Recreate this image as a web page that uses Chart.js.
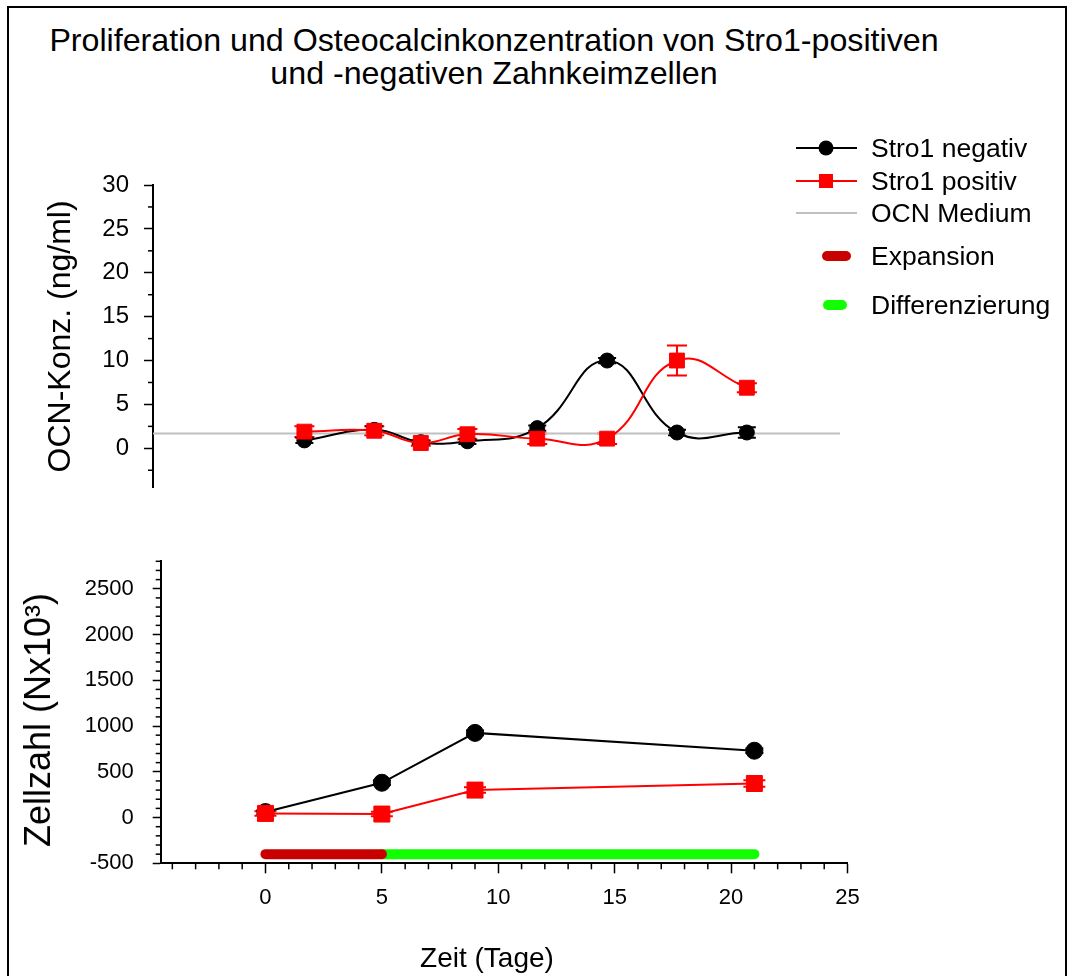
<!DOCTYPE html>
<html>
<head>
<meta charset="utf-8">
<script src="https://cdn.jsdelivr.net/npm/chart.js@4.4.1/dist/chart.umd.min.js"></script>
<style>
  html, body { margin: 0; padding: 0; background: #fff; }
  body { width: 1072px; height: 976px; position: relative; overflow: hidden;
         font-family: "Liberation Sans", Arial, sans-serif; color: #000; }
  #frame { position: absolute; left: 7px; top: 6px; width: 1060px; height: 1000px;
           box-sizing: border-box; border: 2px solid #000; }
  .title { position: absolute; left: 0; width: 988px; text-align: center;
           font-size: 32.2px; line-height: 32px; white-space: nowrap; }
  .chartBox { position: absolute; left: 0; width: 1072px; }
  #ocnBox { top: 150px; height: 370px; }
  #cellBox { top: 520px; height: 456px; }
  #xTitle { position: absolute; left: 0; width: 974px; top: 944px; text-align: center;
            font-size: 28px; line-height: 28px; white-space: nowrap; }
  #cellTitle { position: absolute; left: 38px; top: 720px; font-size: 36px; line-height: 36px;
               white-space: nowrap; transform: translate(-50%, -50%) rotate(-90deg); }
  .lg { position: absolute; left: 796px; height: 26px; }
  .lg svg { position: absolute; left: 0; top: 0; }
  .lg span { position: absolute; left: 75px; top: 0; font-size: 26.5px; line-height: 26px; white-space: nowrap; }
</style>
</head>
<body>
<div id="frame"></div>
<div class="title" style="top:24px">Proliferation und Osteocalcinkonzentration von Stro1-positiven</div>
<div class="title" style="top:57px">und -negativen Zahnkeimzellen</div>

<div class="chartBox" id="ocnBox"><canvas id="ocnChart" width="1072" height="370"></canvas></div>
<div class="chartBox" id="cellBox"><canvas id="cellChart" width="1072" height="456"></canvas></div>
<div id="cellTitle">Zellzahl (Nx10³)</div>
<div id="xTitle">Zeit (Tage)</div>

<!-- Legende -->
<div class="lg" style="top:135px">
  <svg width="64" height="26"><line x1="0" y1="13" x2="61" y2="13" stroke="#000" stroke-width="2"/><circle cx="30" cy="13" r="7.5" fill="#000"/></svg>
  <span>Stro1 negativ</span>
</div>
<div class="lg" style="top:168px">
  <svg width="64" height="26"><line x1="0" y1="13" x2="61" y2="13" stroke="#f00" stroke-width="2"/><rect x="23" y="6" width="14" height="14" fill="#f00"/></svg>
  <span>Stro1 positiv</span>
</div>
<div class="lg" style="top:200px">
  <svg width="64" height="26"><line x1="0" y1="13" x2="61" y2="13" stroke="#c0c0c0" stroke-width="2"/></svg>
  <span>OCN Medium</span>
</div>
<div class="lg" style="top:243px">
  <svg width="64" height="26"><line x1="31" y1="13" x2="50" y2="13" stroke="#c80000" stroke-width="10" stroke-linecap="round"/></svg>
  <span>Expansion</span>
</div>
<div class="lg" style="top:292px">
  <svg width="64" height="26"><line x1="32" y1="13" x2="46" y2="13" stroke="#11ff00" stroke-width="10" stroke-linecap="round"/></svg>
  <span>Differenzierung</span>
</div>

<script>
// Osteocalcin (ng/ml) ueber die Kulturdauer
const ocnDays = [2, 5, 7, 9, 12, 15, 18, 21];
const ocnNegativ = [0.9, 2.1, 0.7, 0.8, 2.3, 10.0, 1.8, 1.8];
const ocnNegativErr = [0.3, 0.4, 0.2, 0.3, 0.3, 0.3, 0.3, 0.6];
const ocnPositiv = [1.9, 2.0, 0.6, 1.6, 1.1, 1.1, 10.0, 6.9];
const ocnPositivErr = [0.6, 0.5, 0.3, 0.6, 0.6, 0.6, 1.7, 0.5];
const ocnMedium = 1.7;
const ocnTicks = [0, 5, 10, 15, 20, 25, 30];

// Zellzahl (N x 10^3)
const cellDays = [0, 5, 9, 21];
const cellNegativ = [60, 380, 925, 730];
const cellNegativErr = [20, 25, 25, 25];
const cellPositiv = [45, 38, 300, 372];
const cellPositivErr = [25, 25, 30, 35];
const cellTicks = [-500, 0, 500, 1000, 1500, 2000, 2500];
const dayTicks = [0, 5, 10, 15, 20, 25];

// Kulturphasen
const expansionDays = [0, 5];
const diffDays = [5, 21];
const phaseLevel = -400;

const FONT = '"Liberation Sans", Arial, sans-serif';
const dayMin = -4.5, dayMax = 25;

const pts = (xs, ys) => xs.map((x, i) => ({ x: x, y: ys[i] }));

// Fehlerbalken hinter den Symbolen
const errorBars = {
  id: 'errorBars',
  beforeDatasetsDraw(chart) {
    const ctx = chart.ctx;
    const yScale = chart.scales.y;
    chart.data.datasets.forEach((ds, i) => {
      if (!ds.errors) return;
      const meta = chart.getDatasetMeta(i);
      ctx.save();
      ctx.strokeStyle = ds.borderColor;
      ctx.lineWidth = 2;
      meta.data.forEach((pt, j) => {
        const v = ds.data[j].y, e = ds.errors[j];
        const top = yScale.getPixelForValue(v + e);
        const bot = yScale.getPixelForValue(v - e);
        const w = ds.capWidth / 2;
        ctx.beginPath();
        ctx.moveTo(pt.x, top); ctx.lineTo(pt.x, bot);
        ctx.moveTo(pt.x - w, top); ctx.lineTo(pt.x + w, top);
        ctx.moveTo(pt.x - w, bot); ctx.lineTo(pt.x + w, bot);
        ctx.stroke();
      });
      ctx.restore();
    });
  }
};

// Zwischenstriche an den Achsen
const minorTicks = {
  id: 'minorTicks',
  afterDraw(chart, args, opts) {
    const ctx = chart.ctx;
    ctx.save();
    ctx.strokeStyle = '#000';
    ctx.lineWidth = 1.5;
    (opts.list || []).forEach(m => {
      const s = chart.scales[m.axis];
      for (let v = m.from; v <= m.to + 1e-9; v += m.step) {
        if (Math.abs(v / m.skip - Math.round(v / m.skip)) < 1e-6) continue;
        const p = s.getPixelForValue(v);
        ctx.beginPath();
        if (m.axis === 'y') { ctx.moveTo(s.right - m.len, p); ctx.lineTo(s.right, p); }
        else { ctx.moveTo(p, s.top); ctx.lineTo(p, s.top + m.len); }
        ctx.stroke();
      }
    });
    ctx.restore();
  }
};

const tickFont = size => ({ family: FONT, size: size });
const fixTicks = list => scale => { scale.ticks = list.map(v => ({ value: v })); };

// Oberes Diagramm: OCN-Konzentration
new Chart(document.getElementById('ocnChart'), {
  type: 'line',
  data: {
    datasets: [{
      label: 'Stro1 positiv',
      data: pts(ocnDays, ocnPositiv),
      errors: ocnPositivErr, capWidth: 20,
      borderColor: '#ff0000', backgroundColor: '#ff0000',
      borderWidth: 2, tension: 0.45,
      pointStyle: 'rect', pointRadius: 10.5, pointBorderWidth: 1
    }, {
      label: 'Stro1 negativ',
      data: pts(ocnDays, ocnNegativ),
      errors: ocnNegativErr, capWidth: 18,
      borderColor: '#000000', backgroundColor: '#000000',
      borderWidth: 2, tension: 0.45,
      pointStyle: 'circle', pointRadius: 7.5, pointBorderWidth: 1
    }, {
      label: 'OCN Medium',
      data: [{ x: dayMin, y: ocnMedium }, { x: dayMax, y: ocnMedium }],
      borderColor: '#c0c0c0', borderWidth: 2, pointRadius: 0
    }]
  },
  options: {
    responsive: false, animation: false, events: [],
    layout: { padding: { left: 0, right: 232, top: 35, bottom: 32.2 } },
    plugins: {
      legend: { display: false }, tooltip: { enabled: false },
      minorTicks: { list: [{ axis: 'y', from: -2.5, to: 27.5, step: 2.5, skip: 5, len: 5 }] }
    },
    scales: {
      x: { type: 'linear', min: dayMin, max: dayMax, display: false },
      y: {
        min: -4.5, max: 30,
        afterBuildTicks: fixTicks(ocnTicks),
        afterFit: s => { s.width = 153; },
        border: { display: true, color: '#000', width: 2 },
        grid: { drawOnChartArea: false, drawTicks: true, tickLength: 9, tickColor: '#000', tickWidth: 1.5 },
        ticks: { color: '#000', font: tickFont(24), padding: 15, callback: v => String(v) },
        title: { display: true, text: 'OCN-Konz. (ng/ml)', color: '#000',
                 font: { family: FONT, size: 32, lineHeight: 1 }, padding: { top: 45, bottom: 0 } }
      }
    }
  },
  plugins: [errorBars, minorTicks]
});

// Unteres Diagramm: Zellzahl
new Chart(document.getElementById('cellChart'), {
  type: 'line',
  data: {
    datasets: [{
      label: 'Stro1 positiv',
      data: pts(cellDays, cellPositiv),
      errors: cellPositivErr, capWidth: 22,
      borderColor: '#ff0000', backgroundColor: '#ff0000',
      borderWidth: 2, tension: 0,
      pointStyle: 'rect', pointRadius: 11.3, pointBorderWidth: 1
    }, {
      label: 'Stro1 negativ',
      data: pts(cellDays, cellNegativ),
      errors: cellNegativErr, capWidth: 18,
      borderColor: '#000000', backgroundColor: '#000000',
      borderWidth: 2, tension: 0,
      pointStyle: 'circle', pointRadius: 8.5, pointBorderWidth: 1
    }, {
      label: 'Expansion',
      data: expansionDays.map(x => ({ x: x, y: phaseLevel })),
      borderColor: '#c80000', borderWidth: 10, borderCapStyle: 'round', pointRadius: 0
    }, {
      label: 'Differenzierung',
      data: diffDays.map(x => ({ x: x, y: phaseLevel })),
      borderColor: '#11ff00', borderWidth: 10, borderCapStyle: 'round', pointRadius: 0
    }]
  },
  options: {
    responsive: false, animation: false, events: [],
    layout: { padding: { left: 0, right: 224.5, top: 41.3, bottom: 4.5 } },
    plugins: {
      legend: { display: false }, tooltip: { enabled: false },
      minorTicks: { list: [
        { axis: 'y', from: -400, to: 2800, step: 100, skip: 500, len: 5 },
        { axis: 'x', from: -4, to: 24, step: 1, skip: 5, len: 6 }
      ] }
    },
    scales: {
      x: {
        type: 'linear', min: dayMin, max: dayMax,
        afterBuildTicks: fixTicks(dayTicks),
        afterFit: s => { s.height = 108.2; },
        border: { display: true, color: '#000', width: 2 },
        grid: { drawOnChartArea: false, drawTicks: true, tickLength: 10, tickColor: '#000', tickWidth: 1.5 },
        ticks: { color: '#000', font: tickFont(22), padding: 11, maxRotation: 0, callback: v => String(v) }
      },
      y: {
        min: -500, max: 2800,
        afterBuildTicks: fixTicks(cellTicks),
        afterFit: s => { s.width = 160.7; },
        border: { display: true, color: '#000', width: 2 },
        grid: { drawOnChartArea: false, drawTicks: true, tickLength: 8, tickColor: '#000', tickWidth: 1.5 },
        ticks: { color: '#000', font: tickFont(22), padding: 19, callback: v => String(v) }
      }
    }
  },
  plugins: [errorBars, minorTicks]
});
</script>
</body>
</html>
